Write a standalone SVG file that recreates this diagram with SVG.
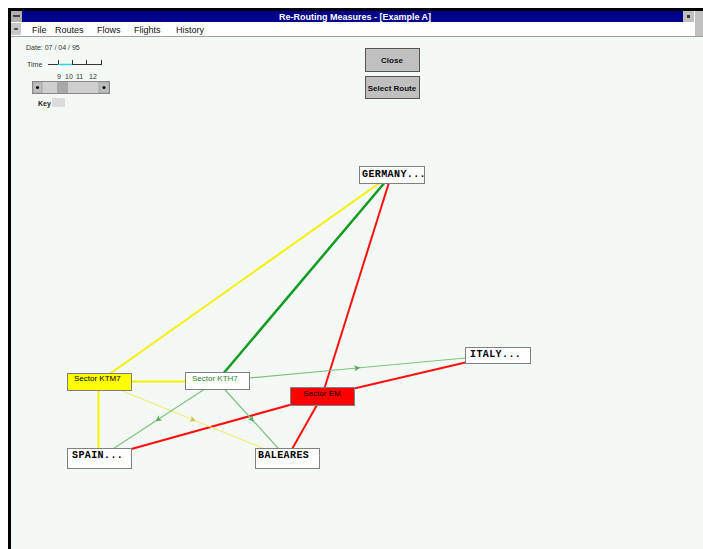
<svg xmlns="http://www.w3.org/2000/svg" width="703" height="549" viewBox="0 0 703 549">
<style>
.ui{font-family:"Liberation Sans",Arial,sans-serif;}
.small{font-size:7px;fill:#333;}
.menu{font-size:9px;fill:#111;}
.btn{fill:#c0c0c0;stroke:#555;stroke-width:1;}
.btnt{font-size:8px;font-weight:bold;fill:#111;text-anchor:middle;}
.box{fill:#ffffff;stroke:#808080;stroke-width:1;}
.cty{font-family:"Liberation Mono","DejaVu Sans Mono",monospace;font-size:10px;font-weight:bold;fill:#000;letter-spacing:0.4px;}
.sec{font-family:"Liberation Sans",Arial,sans-serif;font-size:8px;}
.red{stroke:#ff1010;stroke-width:2;fill:none;}
.yel{stroke:#f4f000;stroke-width:2;fill:none;}
.yelt{stroke:#eeee60;stroke-width:1;fill:none;}
.dgr{stroke:#139a23;stroke-width:2.5;fill:none;}
.lgr{stroke:#7fc27f;stroke-width:1.2;fill:none;}
</style>
<defs>
<marker id="mg" viewBox="-4 -4 8 8" markerWidth="8" markerHeight="8" orient="auto" markerUnits="userSpaceOnUse">
<path d="M3,0 L-3,-3 L-1.5,0 L-3,3 Z" fill="#5aa55a"/>
</marker>
<marker id="my" viewBox="-4 -4 8 8" markerWidth="8" markerHeight="8" orient="auto" markerUnits="userSpaceOnUse">
<path d="M3,0 L-3,-3 L-1.5,0 L-3,3 Z" fill="#c8c060"/>
</marker>
</defs>
<!-- window frame -->
<rect x="0" y="0" width="703" height="549" fill="#ffffff"/>
<rect x="8" y="8" width="695" height="541" fill="#000"/>
<rect x="11" y="11" width="692" height="538" fill="#f4f9f6"/>
<!-- title bar -->
<rect x="11" y="11" width="11" height="11" fill="#b0b0b0"/>
<rect x="13" y="15" width="7" height="2" fill="#444"/>
<rect x="22" y="11" width="661" height="11" fill="#00008a"/>
<text class="ui" x="355" y="20" font-size="9" font-weight="bold" fill="#ffffff" text-anchor="middle">Re-Routing Measures - [Example A]</text>
<rect x="683" y="11" width="11" height="11" fill="#c0c0c0"/>
<rect x="687" y="15" width="3" height="3" fill="#333"/>
<rect x="695" y="11" width="8" height="11" fill="#c0c0c0"/>
<!-- menu bar -->
<rect x="11" y="22" width="692" height="14" fill="#ffffff"/>
<rect x="11" y="23" width="10" height="12" fill="#c8c8c8"/>
<rect x="14" y="28" width="4" height="2" fill="#555"/>
<rect x="695" y="22" width="8" height="14" fill="#c0c0c0"/>
<line x1="11" y1="36.5" x2="703" y2="36.5" stroke="#a0a0a0" stroke-width="1"/>
<text class="ui menu" x="32" y="33">File</text>
<text class="ui menu" x="55" y="33">Routes</text>
<text class="ui menu" x="97" y="33">Flows</text>
<text class="ui menu" x="134" y="33">Flights</text>
<text class="ui menu" x="176" y="33">History</text>
<!-- controls -->
<text class="ui small" x="26" y="50">Date: 07 / 04 / 95</text>
<text class="ui small" x="27" y="67">Time</text>
<line x1="48" y1="64.5" x2="102" y2="64.5" stroke="#333" stroke-width="1"/>
<line x1="58" y1="64.5" x2="72" y2="64.5" stroke="#30d0f0" stroke-width="1.5"/>
<g stroke="#333" stroke-width="1">
<line x1="58.5" y1="60" x2="58.5" y2="64"/>
<line x1="72.5" y1="60" x2="72.5" y2="64"/>
<line x1="86.5" y1="60" x2="86.5" y2="64"/>
<line x1="101.5" y1="60" x2="101.5" y2="64"/>
</g>
<text class="ui small" x="57" y="79">9</text>
<text class="ui small" x="65" y="79">10</text>
<text class="ui small" x="76" y="79">11</text>
<text class="ui small" x="89" y="79">12</text>
<rect x="32.5" y="81.5" width="77" height="12" fill="#cfcfcf" stroke="#888"/>
<rect x="33" y="82" width="9" height="11" fill="#bdbdbd" stroke="#888" stroke-width="0.5"/>
<circle cx="37.5" cy="87.5" r="1.6" fill="#111"/>
<rect x="99" y="82" width="10" height="11" fill="#bdbdbd" stroke="#888" stroke-width="0.5"/>
<circle cx="104" cy="87.5" r="1.6" fill="#111"/>
<rect x="57" y="82" width="11" height="11" fill="#a8a8a8"/>
<text class="ui" x="38" y="106" font-size="7" font-weight="bold" fill="#222">Key</text>
<rect x="52" y="98" width="13" height="9" fill="#dcdcdc"/>
<g id="btn-close">
<rect class="btn" x="365.5" y="48.5" width="54" height="23"/>
<text class="ui btnt" x="392" y="63">Close</text>
</g>
<g id="btn-select">
<rect class="btn" x="365.5" y="76.5" width="54" height="22"/>
<text class="ui btnt" x="392" y="91">Select Route</text>
</g>
<!-- connectors -->
<g id="connectors">
<line class="yel" x1="391.5" y1="174.5" x2="99" y2="381.5"/>
<line class="dgr" x1="391.5" y1="174.5" x2="217" y2="381"/>
<line class="red" x1="391.5" y1="174.5" x2="322" y2="396"/>
<line class="red" x1="322" y1="396" x2="287" y2="458"/>
<line class="red" x1="322" y1="396" x2="99" y2="458"/>
<line class="red" x1="322" y1="396" x2="497.5" y2="355"/>
<line class="yel" x1="99" y1="381.5" x2="217" y2="381.5"/>
<line class="yel" x1="98.5" y1="381.5" x2="98.5" y2="458"/>
<polyline class="yelt" points="99,381.5 193,419.75 287,458" marker-mid="url(#my)"/>
<polyline class="lgr" points="217,381 158,419.5 99,458" marker-mid="url(#mg)"/>
<polyline class="lgr" points="217,381 252,419.5 287,458" marker-mid="url(#mg)"/>
<polyline class="lgr" points="217,381 357.25,368 497.5,355" marker-mid="url(#mg)"/>
</g>
<!-- nodes -->
<g id="node-germany">
<rect class="box" x="359.5" y="166.5" width="65" height="17"/>
<text class="cty" x="362" y="177">GERMANY...</text>
</g>
<g id="node-italy">
<rect class="box" x="465.5" y="347.5" width="65" height="16"/>
<text class="cty" x="470" y="357">ITALY...</text>
</g>
<g id="node-spain">
<rect class="box" x="67.5" y="448.5" width="64" height="20"/>
<text class="cty" x="72" y="458">SPAIN...</text>
</g>
<g id="node-baleares">
<rect class="box" x="255.5" y="448.5" width="64" height="20"/>
<text class="cty" x="258" y="458">BALEARES</text>
</g>
<g id="node-ktm7">
<rect x="67.5" y="373.5" width="64" height="17" fill="#ffff00" stroke="#808080"/>
<text class="sec" x="74" y="381" fill="#000">Sector KTM7</text>
</g>
<g id="node-kth7">
<rect class="box" x="185.5" y="372.5" width="64" height="17"/>
<text class="sec" x="192" y="381" fill="#1a8a2a">Sector KTH7</text>
</g>
<g id="node-em">
<rect x="290.5" y="387.5" width="64" height="18" fill="#ff0000" stroke="#808080"/>
<text class="sec" x="322" y="396" fill="#000" text-anchor="middle">Sector EM</text>
</g>
</svg>
